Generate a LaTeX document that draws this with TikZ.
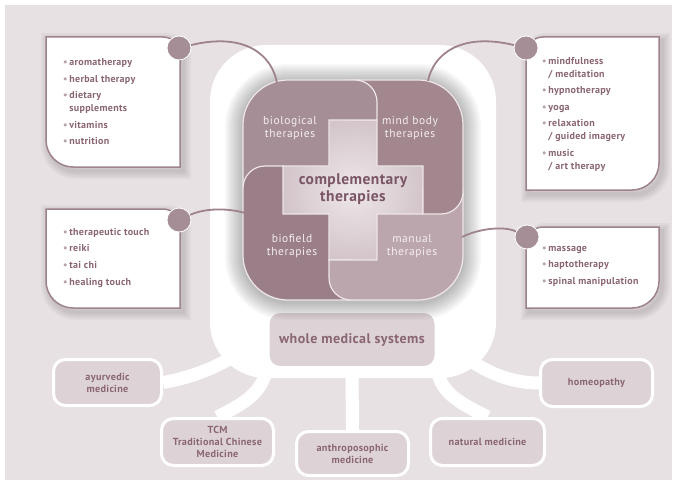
\documentclass[tikz,border=0pt]{standalone}
\usepackage{fontspec}
\setmainfont{PT Sans}
\newfontfamily\trackface[LetterSpace=3]{PT Sans}
\newfontfamily\petalface[LetterSpace=5]{PT Sans}
\usetikzlibrary{positioning}
\definecolor{bggray}{HTML}{E8E1E4}
\definecolor{seam}{HTML}{EEE6E9}
\definecolor{mauve}{HTML}{9E828C}
\definecolor{biocol}{HTML}{A68E96}
\definecolor{mindcol}{HTML}{A2878F}
\definecolor{fieldcol}{HTML}{9A7E88}
\definecolor{manualcol}{HTML}{BCA6AD}
\definecolor{crosscol}{HTML}{D3C5CA}
\definecolor{crosslight}{HTML}{EEE7EA}
\definecolor{inkcol}{HTML}{8A6573}
\definecolor{darkink}{HTML}{7A5565}
\definecolor{bulletcol}{HTML}{B8A2AA}
\definecolor{softbox}{HTML}{DDD3D7}
\definecolor{labelwhite}{HTML}{F4EEF0}
\pgfdeclarelayer{back}
\pgfsetlayers{back,main}
\newcommand{\bul}{{\color{bulletcol}\textbullet}\,}
\newcommand{\ind}{\hphantom{\textbullet\,}}
\newcommand{\petal}{(-110,0) [rounded corners=45pt] -- (-110,-110) [rounded corners=22pt] -- (24,-110) [sharp corners] -- (24,-70) -- (-24,-70) -- (-24,-24) -- (-70,-24) -- (-70,0) -- cycle}
\newcommand{\crosspath}{(-70,-24) -- (-24,-24) -- (-24,-70) -- (24,-70) -- (24,-24) -- (70,-24) -- (70,24) -- (24,24) -- (24,70) -- (-24,70) -- (-24,24) -- (-70,24) -- cycle}
\newcommand{\leftbox}[2]{(100,#1) [rounded corners=17pt] -- (180,#1) [sharp corners] -- (180,#2) [rounded corners=27pt] -- (46,#2) [sharp corners] -- (46,#1) -- cycle}
\newcommand{\rightbox}[2]{(600,#1) -- (659,#1) [rounded corners=27pt] -- (659,#2) [sharp corners] -- (526,#2) [rounded corners=17pt] -- (526,#1) [sharp corners] -- cycle}
\tikzset{
  listbox/.style={draw=mauve, line width=1.5pt, fill=white},
  listtext/.style={anchor=north west, inner sep=0pt, align=left, font=\trackface\bfseries\fontsize{10}{12.8}\selectfont, text=inkcol},
  petallabel/.style={align=center, font=\petalface\fontsize{11.5}{13.5}\selectfont, text=labelwhite},
  sysbox/.style={fill=softbox, draw=white, line width=3pt, rounded corners=12pt, align=center, inner sep=0pt, font=\trackface\bfseries\fontsize{10.2}{12}\selectfont, text=inkcol},
  hubdot/.style={circle, fill=biocol, draw=white, line width=0.8pt, minimum size=24pt, inner sep=0pt},
  linkline/.style={draw=mauve, line width=1.8pt},
  branch/.style={draw=white, line width=13pt},
  seamline/.style={draw=seam, line width=1.2pt}
}
\begin{document}
\begin{tikzpicture}[x=1pt, y=-1pt]
\useasboundingbox (0,0) rectangle (676,484);
\begin{pgfonlayer}{back}
\fill[white] (0,0) rectangle (676,484);
\fill[bggray] (5,5) rectangle (672,480);
\fill[white, rounded corners=56pt] (210,45) rectangle (496,378);
\end{pgfonlayer}

% whole medical systems
\node[sysbox, minimum width=168pt, minimum height=56pt, font=\trackface\bfseries\fontsize{14}{16}\selectfont] (whole) at (352,339.5) {whole medical systems};
\node[sysbox, minimum width=108pt, minimum height=46pt] (ayur) at (107.5,382.5) {ayurvedic\\medicine};
\node[sysbox, minimum width=112pt, minimum height=47pt] (tcm) at (217.5,442) {TCM\\Traditional Chinese\\Medicine};
\node[sysbox, minimum width=112pt, minimum height=44pt] (anthro) at (352.5,453.5) {anthroposophic\\medicine};
\node[sysbox, minimum width=114pt, minimum height=47pt] (natural) at (487.5,442) {natural medicine};
\node[sysbox, minimum width=112pt, minimum height=47pt] (homeo) at (596.5,383) {homeopathy};
\coordinate (framesw) at (250,345);
\coordinate (framese) at (458,350);

\begin{pgfonlayer}{back}
\draw[branch] (ayur.east) .. controls (200,376) and (228,362) .. (framesw);
\draw[branch] (whole.south west) .. controls (262,395) and (240,405) .. (tcm.north);
\draw[branch] (whole.south) -- (anthro.north);
\draw[branch] (whole.south east) .. controls (440,395) and (465,405) .. (natural.north);
\draw[branch] (framese) .. controls (485,375) and (515,383) .. (homeo.west);
\end{pgfonlayer}

% the four therapies round the cross
\foreach \w in {36,32,...,4}
  \draw[black, line width=\w pt, opacity=0.03, rounded corners=45pt] (243,82) rectangle (463,302);
\begin{scope}[shift={(353,190)}]
  \shade[inner color=crosslight, outer color=crosscol] \crosspath;
  \path[fill=biocol, seamline] \petal;
  \begin{scope}[rotate=90]
    \path[fill=fieldcol, seamline] \petal;
  \end{scope}
  \begin{scope}[rotate=180]
    \path[fill=manualcol, seamline] \petal;
  \end{scope}
  \begin{scope}[rotate=-90]
    \path[fill=mindcol, seamline] \petal;
  \end{scope}
  \begin{scope}
    \clip (-8,-118) rectangle (32,-60);
    \path[fill=biocol, seamline] \petal;
  \end{scope}
\end{scope}
\node[petallabel] (biolabel) at (290,128) {biological\\therapies};
\node[petallabel] (mindlabel) at (410,128) {mind body\\therapies};
\node[petallabel] (fieldlabel) at (292,246) {biofield\\therapies};
\node[petallabel] (manlabel) at (412,246) {manual\\therapies};
\node[align=center, font=\trackface\bfseries\fontsize{15.5}{17.5}\selectfont, text=darkink] (core) at (353,189) {complementary\\therapies};

% list boxes
\begin{scope}[shift={(3,4)}]
  \foreach \w in {16,12,8,4} {
    \path[draw=black, draw opacity=0.035, line width=\w pt] \leftbox{37}{167};
    \path[draw=black, draw opacity=0.035, line width=\w pt] \leftbox{209}{308};
    \path[draw=black, draw opacity=0.035, line width=\w pt] \rightbox{37}{190};
    \path[draw=black, draw opacity=0.035, line width=\w pt] \rightbox{227}{308};
  }
\end{scope}
\draw[listbox] \leftbox{37}{167};
\draw[listbox] \leftbox{209}{308};
\draw[listbox] \rightbox{37}{190};
\draw[listbox] \rightbox{227}{308};

\node[listtext] (biolist) at (63,58.5) {\bul aromatherapy\\[3.8pt]\bul herbal therapy\\[3.8pt]\bul dietary\\\ind supplements\\[3.8pt]\bul vitamins\\[3.8pt]\bul nutrition};
\node[listtext] (fieldlist) at (63,228) {\bul therapeutic touch\\[3.8pt]\bul reiki\\[3.8pt]\bul tai chi\\[3.8pt]\bul healing touch};
\node[listtext] (mindlist) at (542,57) {\bul mindfulness\\\ind/ meditation\\[3.8pt]\bul hypnotherapy\\[3.8pt]\bul yoga\\[3.8pt]\bul relaxation\\\ind/ guided imagery\\[3.8pt]\bul music\\\ind/ art therapy};
\node[listtext] (manlist) at (542,246) {\bul massage\\[3.8pt]\bul haptotherapy\\[3.8pt]\bul spinal manipulation};

% connectors
\coordinate (tipbio) at (277,83);
\coordinate (tipmind) at (428,81);
\coordinate (tipfield) at (245,213);
\coordinate (tipman) at (462,237);
\node[hubdot] (hubbio) at (179,48) {};
\node[hubdot] (hubfield) at (179,220) {};
\node[hubdot] (hubmind) at (526,48) {};
\node[hubdot] (hubman) at (527,237) {};
\draw[linkline] (hubbio) .. controls (245,32) and (272,55) .. (tipbio);
\draw[linkline] (hubmind) .. controls (460,32) and (433,55) .. (tipmind);
\draw[linkline] (hubfield) .. controls (205,208) and (228,208) .. (tipfield);
\draw[linkline] (hubman) .. controls (505,226) and (480,228) .. (tipman);
\end{tikzpicture}
\end{document}
